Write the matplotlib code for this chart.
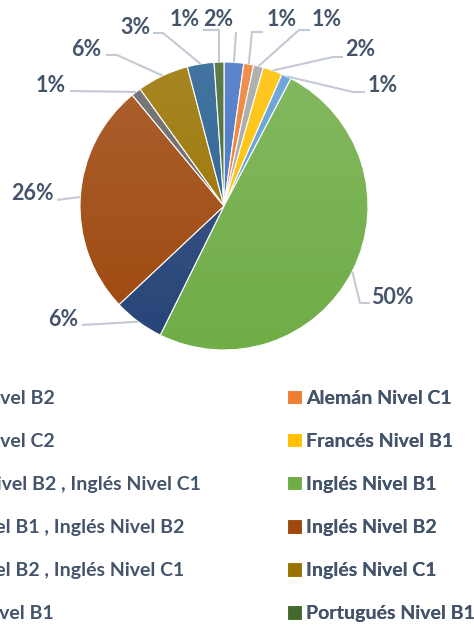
import matplotlib
matplotlib.use("Agg")
import matplotlib.pyplot as plt
import numpy as np
from matplotlib.patches import Circle

# datos (porcentaje de alumnos por idioma / nivel)
categorias = ["Alemán Nivel B2", "Alemán Nivel C1", "Alemán Nivel C2",
              "Francés Nivel B1", "Francés Nivel B2 , Inglés Nivel C1",
              "Inglés Nivel B1", "Inglés Nivel B1 , Inglés Nivel B2",
              "Inglés Nivel B2", "Inglés Nivel B2 , Inglés Nivel C1",
              "Inglés Nivel C1", "Italiano Nivel B1", "Portugués Nivel B1"]
valores = [2.2, 1.1, 1.1, 2.2, 1.1, 49.6, 5.7, 26.0, 1.1, 5.8, 3.0, 1.1]
colores = ["#4472C4", "#ED7D31", "#A5A5A5", "#FFC000", "#5B9BD5", "#70AD47",
           "#264478", "#9E480E", "#636363", "#997300", "#255E91", "#43682B"]

W, H = 474, 626
TXT = "#44546A"
LINEA = "#C3CAD5"
FUENTE = "Lato"

def py(y):
    # coordenada y en pixeles (desde arriba) -> datos
    return H - y

fig = plt.figure(figsize=(W / 100, H / 100), dpi=100, facecolor="white")
ax = fig.add_axes([0, 0, 1, 1])
cx, cy, r = 224, py(206), 144

wedges, _ = ax.pie(valores, colors=colores, startangle=90, counterclock=False,
                   center=(cx, cy), radius=r, frame=True,
                   wedgeprops=dict(edgecolor="white", linewidth=0.8))

# degradado suave (mas claro arriba)
grad = np.zeros((100, 2, 4))
grad[:, :, :3] = 1.0
grad[:, :, 3] = np.linspace(0.14, 0.0, 100)[:, None]
im = ax.imshow(grad, extent=(cx - r, cx + r, cy - r, cy + r), origin="upper",
               aspect="auto", zorder=3)
im.set_clip_path(Circle((cx, cy), r, transform=ax.transData))

# etiquetas: centro del texto, codo y final de la linea guia (pixeles)
etiquetas = [
    ((218, 19), (236, 32), (236, 32)),
    ((282, 19), (252, 32), (263, 32)),
    ((327, 19), (299, 30), (310, 30)),
    ((360, 50), (333, 57), (343, 57)),
    ((383, 85), (353, 92), (365, 92)),
    ((392, 297), (360, 303), (370, 303)),
    ((63, 319), (82, 325), (82, 325)),
    ((32, 194), (57, 200), (57, 200)),
    ((51, 85), (70, 91), (70, 91)),
    ((86, 49), (117, 55), (106, 55)),
    ((135, 27), (163, 33), (153, 33)),
    ((185, 19), (219, 30), (203, 30)),
]
total = sum(valores)
for w, v, (t, e, f) in zip(wedges, valores, etiquetas):
    ang = np.deg2rad((w.theta1 + w.theta2) / 2)
    x0, y0 = cx + r * np.cos(ang), cy + r * np.sin(ang)
    ax.plot([x0, e[0], f[0]], [y0, py(e[1]), py(f[1])], color=LINEA,
            lw=1.5, zorder=1, solid_capstyle="butt")
    ax.text(t[0], py(t[1]), "%d%%" % round(v / total * 100), ha="center",
            va="center", color=TXT, fontsize=15.5, fontweight="bold",
            family=FUENTE)

ax.set_xlim(0, W)
ax.set_ylim(0, H)
ax.set_aspect("equal")
ax.axis("off")

# leyenda en dos columnas (orden por filas, como Excel)
izq = list(range(0, 12, 2))
der = list(range(1, 12, 2))
for cols, x in ((izq, -110), (der, 287)):
    leg = ax.legend([wedges[i] for i in cols], [categorias[i] for i in cols],
                    loc="upper left", bbox_to_anchor=(x, py(390)),
                    bbox_transform=ax.transData, frameon=False,
                    borderpad=0, borderaxespad=0, handlelength=0.75,
                    handleheight=0.75, handletextpad=0.25, labelspacing=1.34,
                    prop=dict(family=FUENTE, size=14, weight="bold"))
    for t in leg.get_texts():
        t.set_color(TXT)
    ax.add_artist(leg)

fig.savefig("out.png", dpi=100, facecolor="white")
